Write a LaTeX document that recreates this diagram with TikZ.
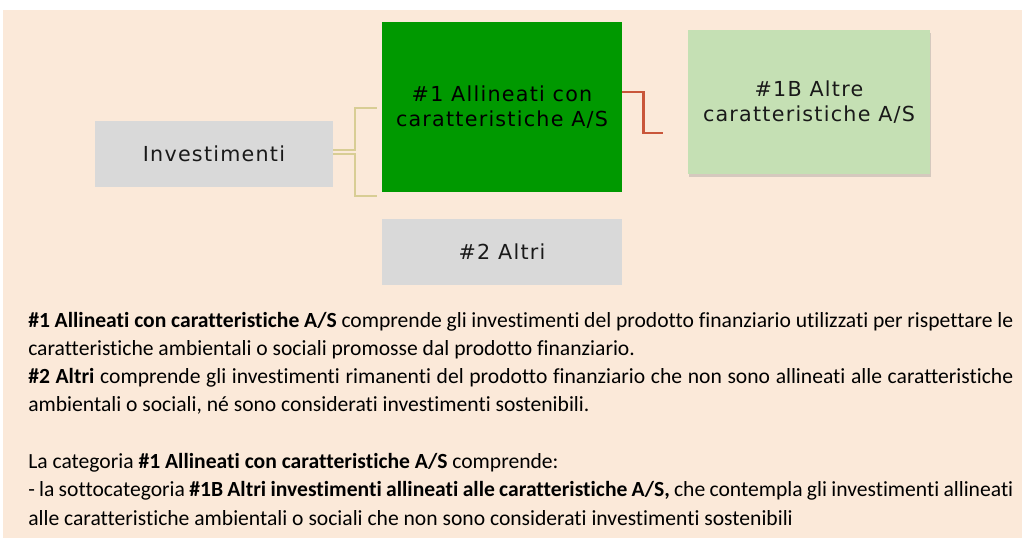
\documentclass[tikz,border=0pt]{standalone}
\usepackage{fontspec}
\setmainfont[Ligatures=NoCommon]{Carlito}
\newfontfamily\boxfont[LetterSpace=6]{DejaVu Sans}
\usepackage{xcolor}
\usepackage{tikz}
\usetikzlibrary{positioning,calc,shadows}
\definecolor{bgpeach}{HTML}{FBE9D9}
\definecolor{catgray}{HTML}{D9D9D9}
\definecolor{catgreen}{HTML}{009900}
\definecolor{subgreen}{HTML}{C5E0B4}
\definecolor{treetan}{HTML}{D8CD94}
\definecolor{linkred}{HTML}{C9563A}

\begin{document}
\begin{tikzpicture}[x=0.75pt,y=-0.75pt,
    catbox/.style={inner sep=0pt, align=center, text=black!90,
        font=\boxfont\fontsize{15.5}{18.75}\selectfont},
    treeline/.style={draw=treetan, line width=1.8pt},
    redline/.style={draw=linkred, line width=2pt},
    notes/.style={inner sep=0pt, anchor=north west, text width=738.75pt, align=justify,
        font=\fontsize{16.2}{21}\selectfont,
        execute at begin node={\setlength{\parindent}{0pt}}}]
    \useasboundingbox (0,0) rectangle (1022,538);
    \fill[bgpeach] (3,10) rectangle (1022,538);

    % Categories
    \node[catbox, fill=catgray, minimum width=178.5pt, minimum height=49.5pt] (inv) at (214,154) {Investimenti};
    \node[catbox, fill=catgreen, text=black, minimum width=180pt, minimum height=127.5pt] (aligned) at (502,107) {\#1 Allineati con\\caratteristiche A/S};
    \node[catbox, fill=catgray, minimum width=180pt, minimum height=49.5pt] (other) at (502,252) {\#2 Altri};
    \node[catbox, fill=subgreen, minimum width=181.5pt, minimum height=108pt,
        drop shadow={shadow xshift=0.5pt, shadow yshift=-2pt, opacity=0.3}] (altre) at (809,102) {\#1B Altre\\caratteristiche A/S};

    % Connectors
    \draw[treeline] ($(inv.east)+(0,-4)$) -- ++(22,0) |- ($(aligned.west)+(-5,1)$);
    \draw[treeline] (inv.east) -- ++(22,0) |- ($(aligned.south west)+(-5,4)$);
    \draw[redline] ($(aligned.east)+(0,-15)$) -- ++(21,0) |- ($(altre.west)+(-25,31)$);

    % Notes
    \node[notes] (defs) at (28,312) {\textbf{\#1 Allineati con caratteristiche A/S} comprende gli investimenti del prodotto finanziario utilizzati per rispettare le\linebreak caratteristiche ambientali o sociali promosse dal prodotto finanziario.\par
    \textbf{\#2 Altri} comprende gli investimenti rimanenti del prodotto finanziario che non sono allineati alle caratteristiche\linebreak ambientali o sociali, né sono considerati investimenti sostenibili.};
    \node[notes, font=\fontsize{16.2}{21.4}\selectfont] (cat) at (28,453) {La categoria \textbf{\#1 Allineati con caratteristiche A/S} comprende:\par
    - la sottocategoria \textbf{\#1B Altri investimenti allineati alle caratteristiche A/S,} che contempla gli investimenti allineati\linebreak alle caratteristiche ambientali o sociali che non sono considerati investimenti sostenibili};
\end{tikzpicture}
\end{document}
